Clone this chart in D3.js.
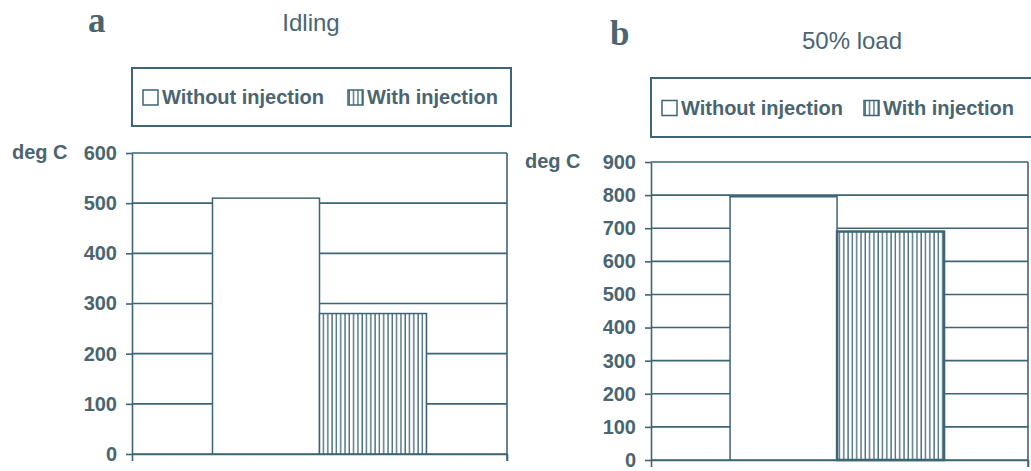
<!DOCTYPE html>
<html>
<head>
<meta charset="utf-8">
<script src="https://cdn.jsdelivr.net/npm/d3@7"></script>
<style>
  body { margin: 0; background: #fff; }
  svg { display: block; }
  text { font-family: "Liberation Sans", Arial, sans-serif; fill: #4a6570; }
  .tick text { font-size: 20px; font-weight: bold; fill: #4a6570; }
</style>
</head>
<body>
<svg width="1031" height="471"></svg>
<script>
// data
const series = ["Without injection", "With injection"];
const idlingValues = [510, 280];
const loadValues = [795, 690];
const idlingTicks = [0, 100, 200, 300, 400, 500, 600];
const loadTicks = [0, 100, 200, 300, 400, 500, 600, 700, 800, 900];
const panelLetters = ["a", "b"];
const panelTitles = ["Idling", "50% load"];
const unitLabel = "deg C";

const ink = "#3d6575";
var svg = d3.select("svg");

// hatch for the "with injection" bars (white ground, vertical lines)
const defs = svg.append("defs");
const pat = defs.append("pattern")
    .attr("id", "vlines")
    .attr("patternUnits", "userSpaceOnUse")
    .attr("width", 4.3)
    .attr("height", 10);
pat.append("rect")
    .attr("width", 4.3).attr("height", 10)
    .attr("fill", "#fff");
pat.append("line")
    .attr("x1", 1).attr("x2", 1)
    .attr("y1", 0).attr("y2", 10)
    .attr("stroke", ink)
    .attr("stroke-width", 1.3);

const panels = [
  { letter: panelLetters[0], title: panelTitles[0], values: idlingValues, ticks: idlingTicks,
    left: 132, right: 507, top: 153, bottom: 454, align: 0.5,
    letterX: 88, letterY: 32, titleX: 311, titleY: 31,
    legend: { x: 132, y: 68, w: 379, h: 58, items: [143, 348] },
    unitX: 12, barStroke: [1.5, 1.5] },
  { letter: panelLetters[1], title: panelTitles[1], values: loadValues, ticks: loadTicks,
    left: 651, right: 1028, top: 162, bottom: 460, align: 0.485,
    letterX: 610, letterY: 45, titleX: 852, titleY: 49,
    legend: { x: 651, y: 78, w: 390, h: 59, items: [662, 864] },
    unitX: 525, barStroke: [1.5, 2.5] }
];

panels.forEach(p => drawPanel(p));

function drawPanel(p) {
  const g = svg.append("g");
  const maxV = p.ticks[p.ticks.length - 1];

  const y = d3.scaleLinear().domain([0, maxV]).range([p.bottom, p.top]);
  const barsWidth = 214;
  const step = barsWidth / series.length;
  const outer = ((p.right - p.left) - barsWidth) / 2 / step;
  const x = d3.scaleBand().domain(series).range([p.left, p.right])
      .paddingInner(0).paddingOuter(outer).align(p.align);

  // panel letter + title
  g.append("text")
      .attr("x", p.letterX).attr("y", p.letterY)
      .style("font-family", "'Liberation Serif', 'Times New Roman', serif")
      .style("font-weight", "bold")
      .style("font-size", "35px")
      .text(p.letter);
  g.append("text")
      .attr("x", p.titleX).attr("y", p.titleY)
      .attr("text-anchor", "middle")
      .style("font-size", "24px")
      .text(p.title);

  // legend
  const lg = g.append("g");
  lg.append("rect")
      .attr("x", p.legend.x).attr("y", p.legend.y)
      .attr("width", p.legend.w).attr("height", p.legend.h)
      .attr("fill", "#fff").attr("stroke", ink).attr("stroke-width", 2);
  const cy = p.legend.y + p.legend.h / 2;
  series.forEach((s, i) => {
    const lx = p.legend.items[i];
    lg.append("rect")
        .attr("x", lx).attr("y", cy - 7)
        .attr("width", 15).attr("height", 15)
        .attr("fill", i === 0 ? "#fff" : "url(#vlines)")
        .attr("stroke", ink).attr("stroke-width", 1.5);
    lg.append("text")
        .attr("x", lx + 19).attr("y", cy + 7)
        .style("font-size", "20px").style("font-weight", "bold")
        .text(s);
  });

  // gridlines
  g.append("g").selectAll("line")
    .data(p.ticks)
    .join("line")
      .attr("x1", p.left).attr("x2", p.right)
      .attr("y1", d => y(d)).attr("y2", d => y(d))
      .attr("stroke", ink).attr("stroke-width", 1.6);

  // right border
  g.append("line")
      .attr("x1", p.right).attr("x2", p.right)
      .attr("y1", p.top).attr("y2", p.bottom + 7)
      .attr("stroke", ink).attr("stroke-width", 1.6);

  // bars
  g.append("g").selectAll("rect")
    .data(p.values)
    .join("rect")
      .attr("x", (d, i) => x(series[i]))
      .attr("y", d => y(d))
      .attr("width", x.bandwidth())
      .attr("height", d => y(0) - y(d))
      .attr("fill", (d, i) => i === 0 ? "#fff" : "url(#vlines)")
      .attr("stroke", ink)
      .attr("stroke-width", (d, i) => p.barStroke[i]);

  // y axis
  const yAxis = g.append("g")
      .attr("transform", `translate(${p.left},0)`)
      .call(d3.axisLeft(y).tickValues(p.ticks).tickSize(6).tickSizeOuter(0).tickPadding(9));
  yAxis.selectAll("path, line").attr("stroke", ink).attr("stroke-width", 1.6);
  yAxis.selectAll("text").style("font-family", "'Liberation Sans', Arial, sans-serif");

  // x axis: ticks at the category edges only
  const edge = d3.scaleLinear().domain([0, 1]).range([p.left, p.right]);
  const xAxis = g.append("g")
      .attr("transform", `translate(0,${p.bottom})`)
      .call(d3.axisBottom(edge).tickValues([0, 1]).tickFormat("").tickSize(7).tickSizeOuter(0));
  xAxis.selectAll("path, line").attr("stroke", ink).attr("stroke-width", 1.6);

  // unit label
  g.append("text")
      .attr("x", p.unitX).attr("y", p.top)
      .attr("dy", "0.32em")
      .style("font-size", "20px").style("font-weight", "bold")
      .text(unitLabel);
}
</script>
</body>
</html>
